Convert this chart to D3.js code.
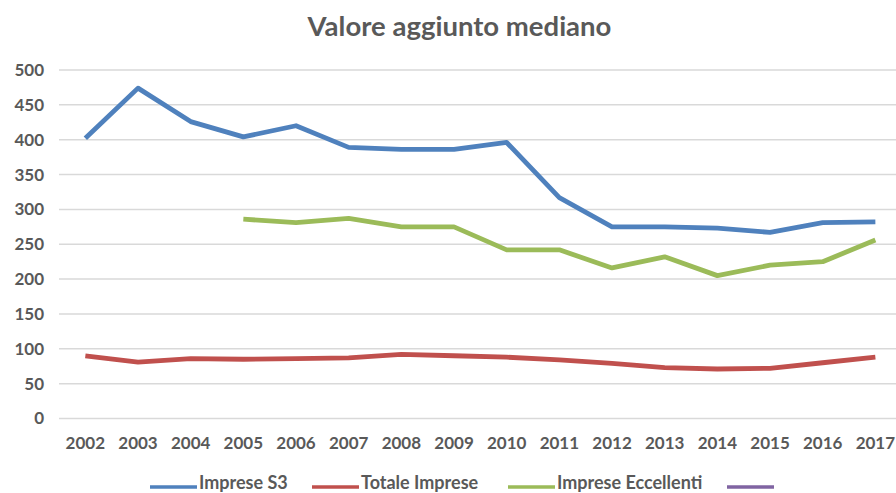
<!DOCTYPE html>
<html>
<head>
<meta charset="utf-8">
<script src="https://cdn.jsdelivr.net/npm/d3@7"></script>
<style>
html,body{margin:0;padding:0;background:#fff;overflow:hidden;}
svg{display:block;font-family:Lato,"Open Sans",sans-serif;}
</style>
</head>
<body>
<svg id="chart" width="896" height="493"></svg>
<script>
const years = ["2002","2003","2004","2005","2006","2007","2008","2009","2010","2011","2012","2013","2014","2015","2016","2017"];
const impreseS3 = [402,474,426,404,420,389,386,386,396,317,275,275,273,267,281,282];
const totaleImprese = [90,81,86,85,86,87,92,90,88,84,79,73,71,72,80,88];
const impreseEccellenti = [null,null,null,286,281,287,275,275,242,242,216,232,205,220,225,256];
const yTicks = [0,50,100,150,200,250,300,350,400,450,500];
const seriesNames = ["Imprese S3","Totale Imprese","Imprese Eccellenti",""];
const seriesColors = ["#4F81BD","#C0504D","#9BBB59","#8064A2"];

const svg = d3.select("#chart");
const x = d3.scaleBand().domain(years).range([59, 901.7]);
const y = d3.scaleLinear().domain([0,500]).range([418.5, 70]);
const textColor = "#595959";

// title
svg.append("text").attr("x",459.5).attr("y",36).attr("text-anchor","middle")
  .attr("font-size",27.5).attr("font-weight","bold").attr("fill",textColor)
  .text("Valore aggiunto mediano");

// gridlines
svg.append("g").selectAll("line").data(yTicks).join("line")
  .attr("x1",59).attr("x2",896)
  .attr("y1",d=>y(d)).attr("y2",d=>y(d))
  .attr("stroke","#D9D9D9").attr("stroke-width",1.5);

// y axis labels
const yAxis = d3.axisLeft(y).tickValues(yTicks).tickSize(0).tickPadding(0);
const gy = svg.append("g").attr("transform","translate(44,0)").call(yAxis);
gy.select(".domain").remove();
gy.selectAll("text").attr("font-size",17).attr("font-weight","bold").attr("fill",textColor)
  .attr("font-family","Lato,sans-serif");

// x axis labels
const xAxis = d3.axisBottom(x).tickSize(0).tickPadding(0);
const gx = svg.append("g").attr("transform","translate(0,437)").call(xAxis);
gx.select(".domain").remove();
gx.selectAll("text").attr("font-size",17).attr("font-weight","bold").attr("fill",textColor)
  .attr("font-family","Lato,sans-serif");

// lines
const data = [impreseS3, totaleImprese, impreseEccellenti];
const line = d3.line()
  .defined(d=>d.v!=null)
  .x(d=>x(d.year)+x.bandwidth()/2)
  .y(d=>y(d.v));
data.forEach((arr,i)=>{
  svg.append("path")
    .datum(years.map((yr,j)=>({year:yr,v:arr[j]})))
    .attr("d",line).attr("fill","none")
    .attr("stroke",seriesColors[i]).attr("stroke-width",4.8)
    .attr("stroke-linejoin","round").attr("stroke-linecap","butt");
});

// legend
const legendX = [150,312,508,727];
const lg = svg.append("g");
seriesNames.forEach((name,i)=>{
  lg.append("line").attr("x1",legendX[i]).attr("x2",legendX[i]+47)
    .attr("y1",487).attr("y2",487)
    .attr("stroke",seriesColors[i]).attr("stroke-width",3.5);
  if(name){
    lg.append("text").attr("x",legendX[i]+49).attr("y",489)
      .attr("font-size",18).attr("font-weight","bold").attr("fill",textColor)
      .text(name);
  }
});
</script>
</body>
</html>
